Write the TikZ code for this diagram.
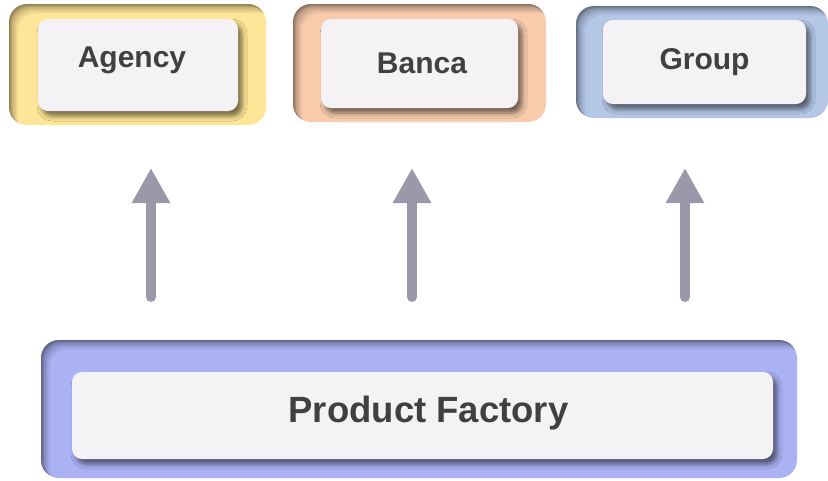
\documentclass[tikz,border=0pt]{standalone}
\usepackage{fontspec}
\setmainfont{Liberation Sans}
\usepackage{tikz}
\usetikzlibrary{arrows.meta}
\usetikzlibrary{shadows.blur}
\definecolor{jaune}{HTML}{FFE597}
\definecolor{peche}{HTML}{F8CBAD}
\definecolor{bleu}{HTML}{B4C7E7}
\definecolor{lavande}{HTML}{AAB2F4}
\definecolor{carte}{HTML}{F4F2F4}
\definecolor{texte}{HTML}{404040}
\definecolor{fleche}{HTML}{9B99A9}
\tikzset{
  cadre/.style={rounded corners=18pt,fill=#1,inner sep=0pt,outer sep=0pt,
    path picture={
      \foreach \d/\o in {1/.10,2/.10,3/.10,5/.09,7/.07,9/.05}{
        \fill[black,opacity=\o,even odd rule,rounded corners=18pt]
          ([shift={(-40pt,40pt)}]path picture bounding box.north west) rectangle
          ([shift={(40pt,-40pt)}]path picture bounding box.south east)
          ([shift={(\d pt,-\d pt)}]path picture bounding box.north west) rectangle
          ([shift={(\d pt,-\d pt)}]path picture bounding box.south east);
      }}},
  carte/.style={rounded corners=10pt,fill=carte,inner sep=0pt,text=texte,
    font=\fontsize{30}{36}\selectfont\bfseries,
    blur shadow={shadow xshift=4pt,shadow yshift=-5pt,shadow blur radius=5pt,shadow opacity=55}},
  monte/.style={draw=fleche,line width=10pt,line cap=round,-{Triangle[width=36pt,length=35pt]}}
}

\begin{document}
\begin{tikzpicture}[x=1pt,y=-1pt]%
        \useasboundingbox (0,0) rectangle (828,480);%%
        % cadres colores
        \node[cadre=jaune,minimum width=257pt,minimum height=121pt] (fagency) at (137.5,64.5) {}; %%
        \node[cadre=peche,minimum width=253pt,minimum height=118pt] (fbanca) at (419.5,63) {}; %%
        \node[cadre=bleu,minimum width=252pt,minimum height=112pt] (fgroup) at (702,62) {}; %%
        \node[cadre=lavande,minimum width=756pt,minimum height=138pt] (fproduct) at (419,409) {}; %%
        % cartes
        \begin{scope}
        \tikzstyle{every node}=[carte] %%
        \node[minimum width=200pt,minimum height=92pt,text height=22pt,text depth=18pt] (agency) at (138,65) {Agency\kern12pt}; %%
        \node[minimum width=197pt,minimum height=89pt] (banca) at (419.5,63.5) {\kern5pt Banca}; %%
        \node[minimum width=203pt,minimum height=84pt] (group) at (704.5,62) {Group}; %%
        \node[minimum width=701pt,minimum height=87pt,font=\fontsize{36.5}{44}\selectfont\bfseries,
              text height=27pt,text depth=14pt] (product) at (422.5,415.5) {\kern12pt Product Factory}; %%
        \end{scope}
        % fleches
        \coordinate (p1) at (151,297); \coordinate (a1) at (151,168); %%
        \coordinate (p2) at (412,297); \coordinate (a2) at (412,168); %%
        \coordinate (p3) at (685,297); \coordinate (a3) at (685,168); %%
        \draw[monte] (p1)--(a1); %%
        \draw[monte] (p2)--(a2); %%
        \draw[monte] (p3)--(a3); %%
\end{tikzpicture}
\end{document}
